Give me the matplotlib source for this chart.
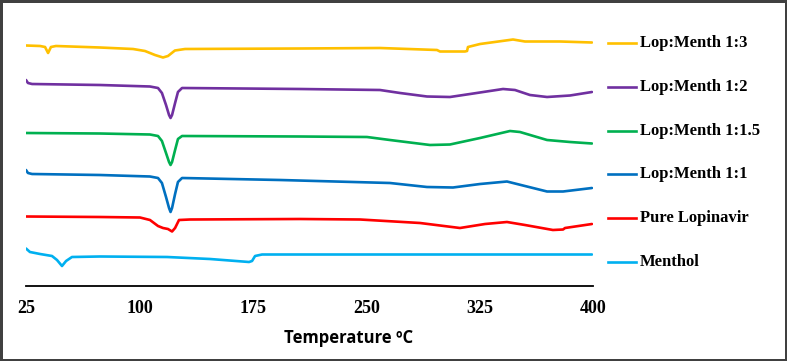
import matplotlib
matplotlib.use("Agg")
import matplotlib.pyplot as plt
from matplotlib.lines import Line2D

# DSC thermograms, temperature (deg C) vs offset heat flow (a.u.)
labels = ["Menthol", "Pure Lopinavir", "Lop:Menth 1:1", "Lop:Menth 1:1.5",
          "Lop:Menth 1:2", "Lop:Menth 1:3"]
colors = ["#00B0F0", "#FF0000", "#0070C0", "#00B050", "#7030A0", "#FFC000"]

menthol_t = [25, 27.6, 34.3, 42.2, 45.5, 48.8, 51.5, 55.4, 73.9, 118.3, 146.7, 172.5, 174.5, 176.5, 181.1, 206.2, 399.3]
menthol_y = [51.5, 48, 46, 44, 40, 34, 39, 43, 43.5, 43, 41, 38, 39, 44, 45.5, 45.5, 45.5]

lopin_t = [25, 73.9, 100.4, 107, 112.3, 115.6, 118.9, 121.6, 123.6, 126.2, 133.5, 206.2, 245.9, 285.6, 312, 328.6, 343.1, 355, 373.5, 380.2, 381.5, 399.3]
lopin_y = [83.5, 83, 82.5, 80, 74, 72, 71, 68.5, 72, 80, 80.5, 81, 80.5, 77, 72, 76, 78, 75, 70, 70.5, 72, 76]

m11_t = [25, 26.3, 29, 73.9, 107, 112.3, 114.9, 117.6, 119.6, 120.6, 121.6, 123.6, 125.5, 128.2, 193, 265.7, 290.2, 307.4, 325.3, 343.1, 355, 369.6, 380.2, 399.3]
m11_y = [130, 127, 126, 125, 123.5, 122, 117, 103, 92, 88, 92, 106, 118, 122, 120, 117, 113, 112.5, 116, 118.5, 114, 108.5, 108.5, 112]

m115_t = [25, 73.9, 107, 112.3, 114.9, 117.6, 119.6, 120.6, 121.6, 123.6, 125.5, 128.2, 206.2, 250.5, 265.7, 292.2, 305.4, 325.3, 345.1, 351.7, 369.6, 384.8, 399.3]
m115_y = [167, 166.5, 165.5, 164, 159, 147, 138, 135, 138, 150, 161, 164, 163.5, 163, 160, 155, 155.5, 162, 169, 168, 160, 158, 156.5]

m12_t = [25, 26.3, 29, 73.9, 107, 112.3, 114.9, 117.6, 119.6, 120.6, 121.6, 123.6, 125.5, 128.2, 206.2, 232.7, 259.1, 272.4, 290.2, 305.4, 318.7, 340.5, 348.4, 358.3, 369.6, 384.8, 399.3]
m12_y = [220, 217, 216, 215, 213.5, 212, 207, 195, 185, 182, 185, 197, 208, 212, 211, 210.5, 210, 207, 203.5, 203, 206, 211, 210, 205, 203, 204.5, 208]

m13_t = [25, 34.3, 37.6, 39.6, 41.5, 44.8, 73.9, 95.8, 103.7, 110.3, 115.6, 118.9, 123.5, 130.2, 206.2, 259.1, 296.8, 298.8, 315.3, 316.7, 317.3, 325.3, 347.1, 355, 378.2, 399.3]
m13_y = [254.5, 254, 253, 247, 253, 254, 252.5, 251, 249, 245, 242.5, 244, 249.5, 251, 251.5, 252, 250, 248.5, 248.5, 249, 253, 256, 260.5, 258.5, 258.5, 257.5]

series_t = [menthol_t, lopin_t, m11_t, m115_t, m12_t, m13_t]
series_y = [menthol_y, lopin_y, m11_y, m115_y, m12_y, m13_y]
xticks = [25, 100, 175, 250, 325, 400]

W, H = 787, 361
fig = plt.figure(figsize=(W / 100, H / 100), dpi=100)
fig.patch.set_edgecolor("#404040")
fig.patch.set_linewidth(2.5)
ax = fig.add_axes([26 / W, 75 / H, 567 / W, 266 / H])

for t, y, c in zip(series_t, series_y, colors):
    ax.plot(t, y, color=c, lw=1.9, solid_capstyle="round", solid_joinstyle="round")

ax.set_xlim(25, 400)
ax.set_ylim(14, 280)
ax.set_xticks(xticks)
ax.set_xticklabels([str(v) for v in xticks], family="Liberation Serif",
                   fontweight="bold", fontsize=13)
ax.tick_params(axis="x", length=0, pad=10)
ax.set_yticks([])
for s in ["top", "right", "left"]:
    ax.spines[s].set_visible(False)
ax.spines["bottom"].set_linewidth(1.3)

fig.text(349 / W, 1 - 338 / H, "Temperature \u00baC", ha="center", va="center",
         family="Open Sans", fontweight="bold", fontsize=12)

# legend, top entry first
for i, k in enumerate(range(len(labels) - 1, -1, -1)):
    yy = 1 - (43 + i * 43.8) / H
    fig.add_artist(Line2D([608 / W, 636 / W], [yy, yy], color=colors[k], lw=1.9))
    fig.text(640 / W, yy, labels[k], ha="left", va="center",
             family="Liberation Serif", fontweight="bold", fontsize=12)

fig.savefig("out.png", dpi=100)
